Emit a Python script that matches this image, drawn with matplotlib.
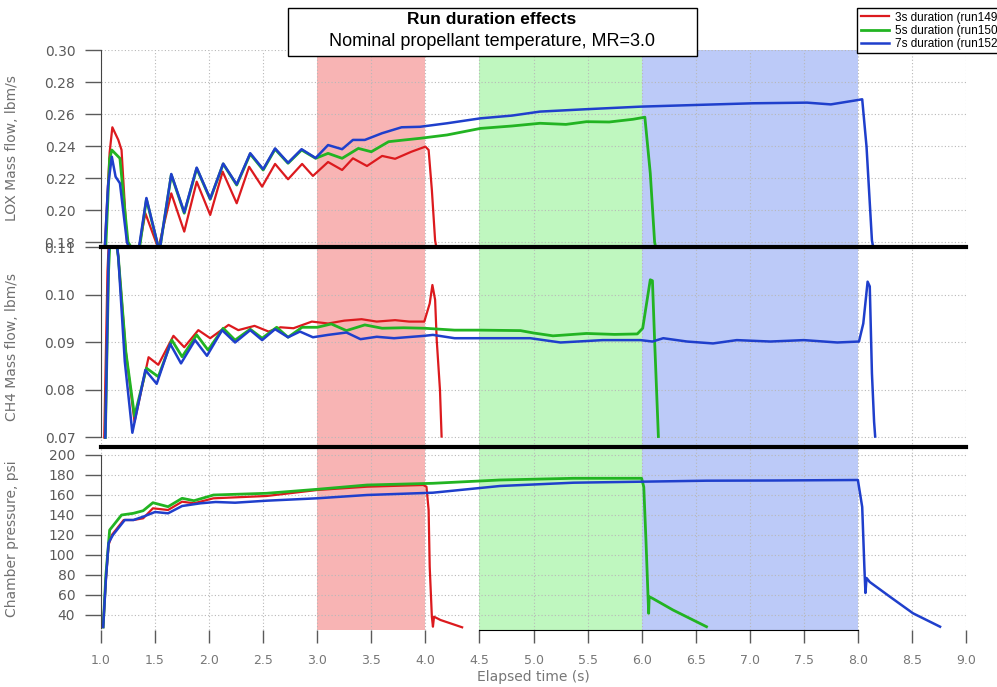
import matplotlib
matplotlib.use("Agg")
import matplotlib.pyplot as plt
from matplotlib.patches import Rectangle

# ---- data ----
runs = ["3s duration (run149)", "5s duration (run150)", "7s duration (run152)"]
run_colors = ["#dc1a1e", "#22b422", "#1f3fcc"]
run_widths = [1.6, 2.0, 1.8]

# burn windows shaded in the background (start, end)
windows = [(3.0, 4.0), (4.5, 6.0), (6.0, 8.0)]
window_colors = ["#f8b4b4", "#bff7bf", "#bccaf8"]

# LOX mass flow, lbm/s
t_lox_3s = [1.03, 1.08, 1.105, 1.16, 1.19, 1.24, 1.30, 1.34, 1.41, 1.53, 1.65, 1.77, 1.885, 2.01, 2.125, 2.255,
            2.37, 2.49, 2.61, 2.73, 2.86, 2.96, 3.10, 3.23, 3.33, 3.46, 3.60, 3.72, 3.87, 4.00, 4.03, 4.06, 4.09, 4.12]
lox_3s = [0.170, 0.236, 0.2517, 0.2438, 0.2375, 0.180, 0.170, 0.172, 0.198, 0.176, 0.2104, 0.1865, 0.2177, 0.1969,
          0.224, 0.2042, 0.227, 0.2146, 0.2288, 0.2192, 0.2288, 0.2213, 0.230, 0.225, 0.2323, 0.2275, 0.2338, 0.232,
          0.2364, 0.2396, 0.2375, 0.2125, 0.181, 0.170]
t_lox_5s = [1.04, 1.08, 1.10, 1.175, 1.22, 1.25, 1.32, 1.36, 1.42, 1.54, 1.65, 1.77, 1.885, 2.01, 2.13, 2.255, 2.38,
            2.50, 2.61, 2.73, 2.855, 2.985, 3.10, 3.23, 3.38, 3.50, 3.66, 3.81, 3.95, 4.20, 4.51, 4.80, 5.06, 5.30,
            5.49, 5.70, 5.92, 6.03, 6.08, 6.12, 6.15]
lox_5s = [0.170, 0.232, 0.2375, 0.2323, 0.200, 0.180, 0.172, 0.178, 0.2067, 0.174, 0.222, 0.198, 0.226, 0.2067,
          0.2288, 0.2156, 0.235, 0.225, 0.238, 0.2292, 0.2375, 0.2323, 0.2354, 0.2323, 0.2385, 0.2364, 0.2427,
          0.2438, 0.2448, 0.2469, 0.251, 0.2525, 0.2542, 0.2535, 0.2552, 0.255, 0.2567, 0.258, 0.223, 0.18, 0.17]
t_lox_7s = [1.03, 1.065, 1.10, 1.135, 1.175, 1.24, 1.30, 1.35, 1.42, 1.54, 1.65, 1.77, 1.885, 2.01, 2.13, 2.255,
            2.38, 2.50, 2.61, 2.73, 2.855, 2.985, 3.10, 3.23, 3.33, 3.44, 3.60, 3.78, 3.95, 4.20, 4.51, 4.80, 5.06,
            5.49, 5.99, 6.48, 7.03, 7.53, 7.75, 7.96, 8.04, 8.08, 8.13, 8.16]
lox_7s = [0.170, 0.215, 0.2333, 0.2208, 0.2167, 0.180, 0.170, 0.176, 0.2075, 0.174, 0.2225, 0.1985, 0.2265, 0.207,
          0.229, 0.216, 0.2355, 0.2255, 0.2385, 0.2295, 0.238, 0.2325, 0.2406, 0.238, 0.2438, 0.2438, 0.248, 0.2517,
          0.252, 0.2542, 0.2573, 0.259, 0.2615, 0.263, 0.2646, 0.2656, 0.2667, 0.2671, 0.2660, 0.2683, 0.2692,
          0.2396, 0.181, 0.170]

# CH4 mass flow, lbm/s
t_ch4_3s = [1.03, 1.06, 1.08, 1.12, 1.16, 1.23, 1.31, 1.44, 1.53, 1.67, 1.77, 1.90, 2.01, 2.18, 2.27, 2.42, 2.55,
            2.66, 2.78, 2.95, 3.10, 3.25, 3.41, 3.55, 3.72, 3.85, 3.99, 4.04, 4.065, 4.09, 4.105, 4.135, 4.15]
ch4_3s = [0.070, 0.105, 0.115, 0.115, 0.108, 0.088, 0.0733, 0.0869, 0.0853, 0.0914, 0.089, 0.0926, 0.0909, 0.0937,
          0.0926, 0.0935, 0.0923, 0.0932, 0.0930, 0.0944, 0.094, 0.0946, 0.0949, 0.0944, 0.0947, 0.0944, 0.0944,
          0.0982, 0.1021, 0.099, 0.0905, 0.080, 0.0702]
t_ch4_5s = [1.04, 1.07, 1.09, 1.12, 1.16, 1.23, 1.31, 1.42, 1.53, 1.655, 1.75, 1.885, 1.99, 2.13, 2.24, 2.38, 2.49,
            2.625, 2.73, 2.86, 3.0, 3.13, 3.27, 3.44, 3.60, 3.80, 3.99, 4.27, 4.51, 4.88, 5.0, 5.18, 5.49, 5.75,
            5.96, 6.01, 6.08, 6.10, 6.12, 6.155]
ch4_5s = [0.070, 0.105, 0.115, 0.115, 0.108, 0.088, 0.0745, 0.0846, 0.0828, 0.0905, 0.087, 0.0916, 0.0884, 0.093,
          0.0905, 0.0928, 0.0909, 0.0932, 0.0911, 0.0932, 0.0932, 0.0939, 0.0925, 0.0937, 0.093, 0.0931, 0.093,
          0.0926, 0.0926, 0.0925, 0.0920, 0.0914, 0.0919, 0.0917, 0.0918, 0.093, 0.1032, 0.103, 0.0905, 0.0702]
t_ch4_7s = [1.04, 1.07, 1.09, 1.12, 1.16, 1.22, 1.29, 1.41, 1.515, 1.64, 1.74, 1.87, 1.98, 2.12, 2.24, 2.38, 2.49,
            2.61, 2.73, 2.84, 2.96, 3.10, 3.27, 3.40, 3.55, 3.71, 3.99, 4.07, 4.27, 4.51, 4.97, 5.25, 5.64, 5.99,
            6.10, 6.20, 6.42, 6.66, 6.88, 7.19, 7.50, 7.81, 8.01, 8.05, 8.09, 8.11, 8.13, 8.15, 8.16]
ch4_7s = [0.070, 0.108, 0.116, 0.116, 0.108, 0.086, 0.071, 0.0842, 0.0813, 0.0897, 0.0856, 0.0905, 0.0872, 0.0926,
          0.090, 0.0926, 0.0905, 0.0928, 0.0911, 0.0923, 0.0911, 0.0916, 0.0921, 0.0907, 0.0912, 0.0909, 0.0914,
          0.0916, 0.0909, 0.0909, 0.0909, 0.090, 0.0905, 0.0905, 0.0902, 0.0909, 0.0902, 0.0898, 0.0905, 0.0902,
          0.0905, 0.090, 0.0902, 0.094, 0.1028, 0.1018, 0.0835, 0.0733, 0.0702]

# chamber pressure, psi
t_pc_3s = [1.02, 1.045, 1.07, 1.10, 1.21, 1.30, 1.39, 1.48, 1.62, 1.75, 1.86, 2.04, 2.53, 3.0, 3.46, 3.98, 4.01,
           4.03, 4.04, 4.06, 4.07, 4.08, 4.14, 4.34]
pc_3s = [28, 75, 110, 120, 135, 135, 136.7, 146.7, 145, 153.3, 151.7, 156.7, 159, 165, 168.3, 170, 168.3, 145,
         88.3, 38.3, 28.3, 38.3, 35, 27.7]
t_pc_5s = [1.02, 1.045, 1.08, 1.19, 1.30, 1.39, 1.48, 1.62, 1.75, 1.86, 2.04, 2.53, 3.0, 3.46, 4.07, 4.69, 5.37,
           6.0, 6.02, 6.04, 6.065, 6.07, 6.10, 6.29, 6.60]
pc_5s = [28, 80, 125, 140, 141.7, 144.3, 152.3, 148.3, 156.7, 154.3, 160, 161.7, 165.7, 170, 171.7, 175, 176.7,
         176.7, 168, 115, 41.7, 58.3, 56.7, 45, 28.3]
t_pc_7s = [1.02, 1.045, 1.07, 1.11, 1.22, 1.30, 1.39, 1.50, 1.62, 1.75, 1.92, 2.06, 2.24, 2.53, 3.0, 3.46, 4.07,
           4.69, 5.37, 5.99, 6.60, 7.22, 8.0, 8.04, 8.06, 8.07, 8.08, 8.11, 8.30, 8.51, 8.76]
pc_7s = [28, 75, 112, 120, 135, 135, 138.3, 143, 141.7, 149, 151.7, 153, 152.3, 154.3, 156.7, 160, 162.3, 169,
         172.3, 173.3, 174.3, 174.5, 175, 148, 88, 62, 77, 73, 58, 41.7, 28.3]

x_ticks = [1.0 + 0.5 * i for i in range(17)]
lox_ticks = [0.18, 0.20, 0.22, 0.24, 0.26, 0.28, 0.30]
ch4_ticks = [0.07, 0.08, 0.09, 0.10, 0.11]
pc_ticks = [40, 60, 80, 100, 120, 140, 160, 180, 200]

panels = [
    ([t_lox_3s, t_lox_5s, t_lox_7s], [lox_3s, lox_5s, lox_7s], lox_ticks, (0.176875, 0.30), (0.18, 0.30),
     "LOX Mass flow, lbm/s", "{:.2f}"),
    ([t_ch4_3s, t_ch4_5s, t_ch4_7s], [ch4_3s, ch4_5s, ch4_7s], ch4_ticks, (0.068, 0.1101), (0.07, 0.11),
     "CH4 Mass flow, lbm/s", "{:.2f}"),
    ([t_pc_3s, t_pc_5s, t_pc_7s], [pc_3s, pc_5s, pc_7s], pc_ticks, (25, 208), (27, 200),
     "Chamber pressure, psi", "{:.0f}"),
]

# ---- figure ----
W, H = 997, 687
fig = plt.figure(figsize=(W / 100, H / 100), dpi=100)
plt.rcParams['font.family'] = ['DejaVu Sans']

left, right = 101 / W, 966 / W
bounds_px = [(50, 247), (247, 447), (447, 630)]
grey = "#5a5a5a"

axes = []
for (top_px, bot_px), (ts, vs, yt, ylim, sb, ylab, fmt) in zip(bounds_px, panels):
    ax = fig.add_axes([left, 1 - bot_px / H, right - left, (bot_px - top_px) / H])
    for (a, b), c in zip(windows, window_colors):
        ax.axvspan(a, b, color=c, lw=0)
    for t, v, lab, col, lw in zip(ts, vs, runs, run_colors, run_widths):
        ax.plot(t, v, color=col, lw=lw, label=lab)
    ax.set_xlim(1.0, 9.0)
    ax.set_ylim(*ylim)
    ax.set_yticks(yt)
    ax.set_yticklabels([fmt.format(y) for y in yt])
    ax.set_xticks(x_ticks)
    ax.grid(True, ls=(0, (1, 2)), color="#b8b8b8", lw=0.8)
    ax.spines['right'].set_visible(False)
    ax.spines['left'].set_bounds(*sb)
    ax.spines['left'].set_color("#444444")
    ax.tick_params(axis='y', direction='out', length=11.5, width=1.0, color=grey,
                   labelsize=10, labelcolor=grey, pad=7)
    ax.set_ylabel(ylab, color="#707070", fontsize=10)
    ax.yaxis.set_label_coords(-0.095, 0.5)
    axes.append(ax)

ax_lox, ax_ch4, ax_pc = axes
ax_lox.spines['top'].set_visible(False)
ax_lox.spines['bottom'].set_visible(False)
ax_ch4.spines['bottom'].set_visible(False)
for ax in (ax_ch4, ax_pc):
    ax.spines['top'].set_linewidth(3)
    ax.spines['top'].set_color("black")
for ax in (ax_lox, ax_ch4):
    ax.tick_params(axis='x', length=0, labelbottom=False)

ax_pc.spines['bottom'].set_bounds(4.5, 8.0)
ax_pc.tick_params(axis='x', direction='out', length=9.5, width=1.0, color=grey,
                  labelsize=9, labelcolor="#777777", pad=8)
ax_pc.set_xticklabels(["{:.1f}".format(x) for x in x_ticks])
ax_pc.set_xlabel("Elapsed time (s)", color="#777777", fontsize=10, labelpad=2)

# title box
fig.add_artist(Rectangle((288 / W, 1 - 56 / H), 409 / W, 48 / H, transform=fig.transFigure,
                         facecolor="white", edgecolor="black", lw=1.0, zorder=5))
fig.text(492 / W, 1 - 20 / H, "Run duration effects", ha='center', va='center', fontsize=12.5,
         fontweight='bold', zorder=6, family=['Liberation Sans', 'DejaVu Sans'])
fig.text(492 / W, 1 - 42 / H, "Nominal propellant temperature, MR=3.0", ha='center', va='center',
         fontsize=13, zorder=6, family=['Liberation Sans', 'DejaVu Sans'])

# legend (runs off the right edge like the reference)
handles, labels = ax_lox.get_legend_handles_labels()
fig.legend(handles, labels, loc='upper left', bbox_to_anchor=(857 / W, 1 - 8 / H), fontsize=8.5,
           frameon=True, fancybox=False, edgecolor='black', framealpha=1, borderpad=0.3,
           labelspacing=0.1, handlelength=2.4, handletextpad=0.5, borderaxespad=0,
           prop={'family': ['Liberation Sans', 'DejaVu Sans'], 'size': 8.5})

fig.savefig("out.png", dpi=100)
